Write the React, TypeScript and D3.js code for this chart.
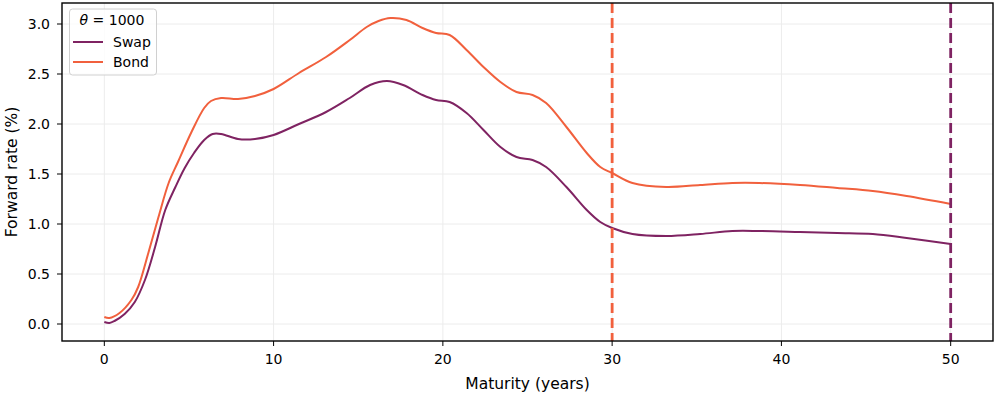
import * as d3 from 'd3';
import React from 'react';

// maturities (years) and forward rates (%)
const swapT = [0, 0.3, 0.6, 1.2, 1.8, 2.4, 3.0, 3.6, 4.2, 4.75, 5.3, 5.9, 6.4, 6.9, 7.9, 8.9, 10, 11.5, 13.1, 14.5, 15.7, 16.7, 17.65, 18.8, 19.6, 20.4, 21.4, 22.4, 23.4, 24.35, 25.3, 26.1, 27.3, 28.5, 29.3, 30, 31.2, 33.2, 35.2, 37.1, 38.7, 41.1, 43.3, 45.4, 47.4, 50];
const swapV = [0.02, 0.01, 0.03, 0.1, 0.22, 0.44, 0.77, 1.14, 1.37, 1.56, 1.71, 1.84, 1.9, 1.9, 1.85, 1.85, 1.89, 2.0, 2.12, 2.26, 2.39, 2.43, 2.39, 2.29, 2.24, 2.22, 2.11, 1.94, 1.77, 1.67, 1.64, 1.57, 1.37, 1.14, 1.02, 0.96, 0.9, 0.88, 0.9, 0.93, 0.93, 0.92, 0.91, 0.9, 0.86, 0.8];

const bondT = [0, 0.3, 0.9, 1.6, 2.0, 2.6, 3.2, 3.8, 4.35, 5.15, 5.9, 6.3, 6.9, 7.9, 8.9, 10, 11.5, 13.1, 14.5, 15.5, 16.2, 16.9, 17.85, 18.8, 19.6, 20.4, 21.4, 22.4, 23.4, 24.35, 25.3, 26.1, 27.3, 28.5, 29.3, 30, 31.2, 33.2, 35.2, 37.1, 38.7, 41.1, 43.3, 45.4, 47.4, 50];
const bondV = [0.07, 0.06, 0.11, 0.24, 0.37, 0.71, 1.07, 1.41, 1.62, 1.92, 2.16, 2.23, 2.26, 2.25, 2.28, 2.35, 2.51, 2.67, 2.84, 2.97, 3.03, 3.06, 3.04, 2.96, 2.91, 2.89, 2.74, 2.57, 2.42, 2.32, 2.29, 2.21, 1.97, 1.71, 1.57, 1.51, 1.41, 1.37, 1.39, 1.41, 1.41, 1.39, 1.36, 1.33, 1.28, 1.2];

const xTicks = [0, 10, 20, 30, 40, 50];
const yTicks = [0, 0.5, 1.0, 1.5, 2.0, 2.5, 3.0];

const SWAP = '#7f2362';
const BOND = '#f1603d';
const FONT = '"DejaVu Sans", sans-serif';

export default function App() {
  const W = 996, H = 395;
  const left = 62, right = 993, top = 3, bottom = 341;

  const x = d3.scaleLinear().domain([-2.5, 52.5]).range([left, right]);
  const y = d3.scaleLinear().domain([-0.17, 3.21]).range([bottom, top]);

  const line = d3.line<[number, number]>()
    .x(d => x(d[0]))
    .y(d => y(d[1]))
    .curve(d3.curveCatmullRom.alpha(0.5));

  const swapPath = line(swapT.map((t, i) => [t, swapV[i]] as [number, number])) || '';
  const bondPath = line(bondT.map((t, i) => [t, bondV[i]] as [number, number])) || '';

  return (
    <svg width={W} height={H} style={{ position: 'absolute', left: 0, top: 0, background: '#fff' }} fontFamily={FONT}>
      <defs>
        <clipPath id="plot">
          <rect x={left} y={top} width={right - left} height={bottom - top} />
        </clipPath>
      </defs>

      {/* grid */}
      {xTicks.map(t => (
        <line key={'gx' + t} x1={x(t)} x2={x(t)} y1={top} y2={bottom} stroke="#ececec" strokeWidth={1} />
      ))}
      {yTicks.map(t => (
        <line key={'gy' + t} x1={left} x2={right} y1={y(t)} y2={y(t)} stroke="#ececec" strokeWidth={1} />
      ))}

      <g clipPath="url(#plot)">
        <path d={swapPath} fill="none" stroke={SWAP} strokeWidth={2} />
        <path d={bondPath} fill="none" stroke={BOND} strokeWidth={2} />
        <line x1={x(30)} x2={x(30)} y1={top} y2={bottom} stroke={BOND} strokeWidth={2.8} strokeDasharray="10,5" />
        <line x1={x(50)} x2={x(50)} y1={top} y2={bottom} stroke={SWAP} strokeWidth={2.8} strokeDasharray="10,5" />
      </g>

      {/* frame */}
      <rect x={left} y={top} width={right - left} height={bottom - top} fill="none" stroke="#000" strokeWidth={1.4} />

      {/* x axis */}
      {xTicks.map(t => (
        <g key={'xt' + t}>
          <line x1={x(t)} x2={x(t)} y1={bottom} y2={bottom + 5} stroke="#000" strokeWidth={1} />
          <text x={x(t)} y={bottom + 23} textAnchor="middle" fontSize={14} fill="#000">{t}</text>
        </g>
      ))}
      <text x={(left + right) / 2} y={389} textAnchor="middle" fontSize={15.5} fill="#000">Maturity (years)</text>

      {/* y axis */}
      {yTicks.map(t => (
        <g key={'yt' + t}>
          <line x1={left - 5} x2={left} y1={y(t)} y2={y(t)} stroke="#000" strokeWidth={1} />
          <text x={left - 12} y={y(t)} dy="0.36em" textAnchor="end" fontSize={14} fill="#000">{d3.format('.1f')(t)}</text>
        </g>
      ))}
      <text transform={`translate(17,${(top + bottom) / 2}) rotate(-90)`} textAnchor="middle" fontSize={15.5} fill="#000">Forward rate (%)</text>

      {/* legend */}
      <g>
        <rect x={69.5} y={9} width={87} height={66} rx={3} fill="#fff" fillOpacity={0.8} stroke="#d0d0d0" strokeWidth={1} />
        <text x={112} y={25} textAnchor="middle" fontSize={14} fill="#000">
          <tspan fontStyle="italic">θ</tspan>
          <tspan> = 1000</tspan>
        </text>
        <line x1={73} x2={103} y1={42} y2={42} stroke={SWAP} strokeWidth={2} />
        <text x={113} y={42} dy="0.36em" fontSize={14} fill="#000">Swap</text>
        <line x1={73} x2={103} y1={62} y2={62} stroke={BOND} strokeWidth={2} />
        <text x={113} y={62} dy="0.36em" fontSize={14} fill="#000">Bond</text>
      </g>
    </svg>
  );
}
